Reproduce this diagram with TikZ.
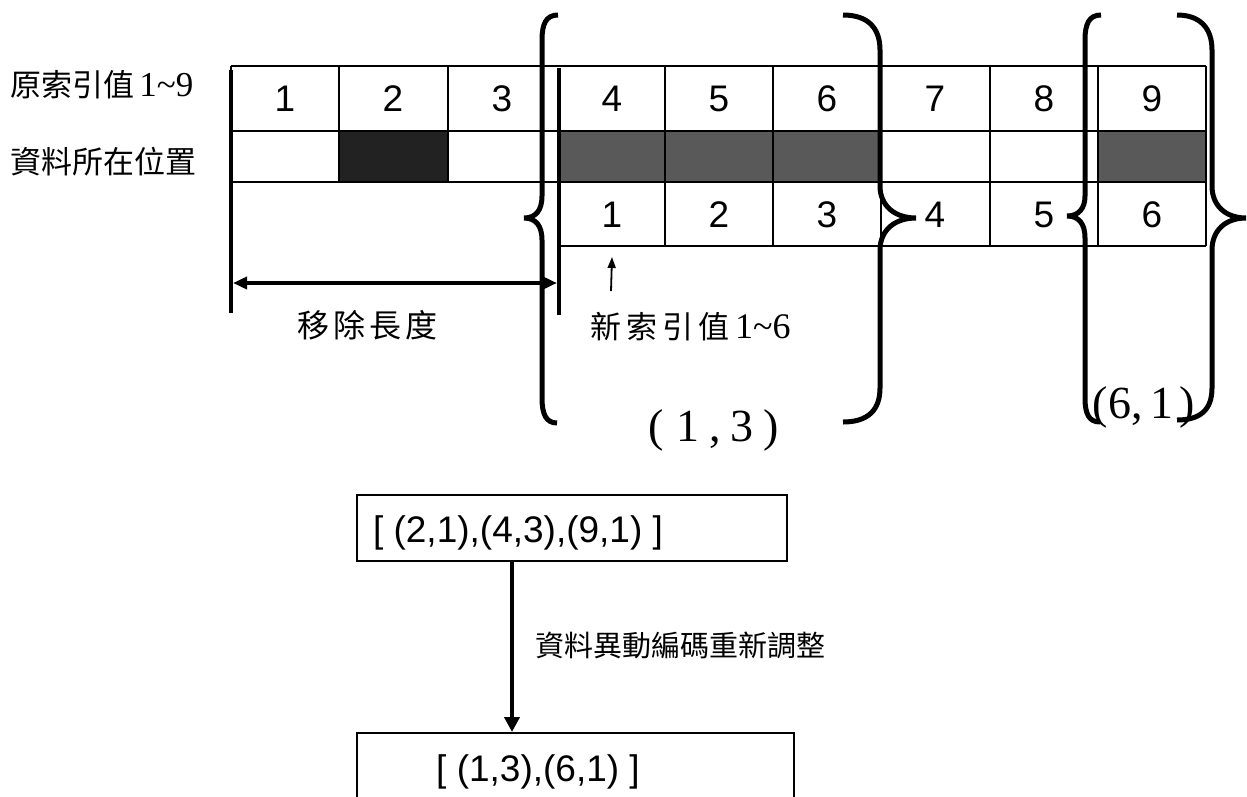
\documentclass[tikz,border=0pt]{standalone}
\usepackage{fontspec}
\setmainfont{Liberation Serif}
\newfontfamily\arialf{Liberation Sans}
\newfontfamily\cjkf{Noto Sans CJK TC}
\usetikzlibrary{arrows.meta}
\definecolor{darkcell}{HTML}{222222}
\definecolor{graycell}{HTML}{595959}
\tikzset{
  gridline/.style={line width=2pt},
  thickbar/.style={line width=4.5pt},
  bracepath/.style={line width=5pt},
  num/.style={font=\arialf\fontsize{37}{42}\selectfont, inner sep=0pt},
  lbl/.style={font=\cjkf\fontsize{31}{36}\selectfont, inner sep=0pt, anchor=west},
  tuple/.style={font=\fontsize{46}{52}\selectfont, inner sep=0pt},
  boxnode/.style={draw, line width=2pt, inner sep=0pt},
  boxtext/.style={font=\arialf\fontsize{37}{42}\selectfont, inner sep=0pt}
}
\begin{document}
\begin{tikzpicture}[x=1pt,y=-1pt]
\useasboundingbox (0,0) rectangle (1247,796);
\clip (0,0) rectangle (1247,796);
\fill[white] (0,0) rectangle (1247,796);

% row labels
\node[lbl] (lab1) at (10,85) {原索引值\,{\fontspec{Liberation Serif}\fontsize{35}{40}\selectfont 1\textasciitilde 9}};
\node[lbl] (lab2) at (10,162) {資料所在位置};

% cell fills
\fill[darkcell] (339,131) rectangle (448,182);
\fill[graycell] (559,131) rectangle (881,182);
\fill[graycell] (1098,131) rectangle (1206,182);

% grid
\draw[gridline] (231,66) -- (1206,66);
\draw[gridline] (231,131) -- (1206,131);
\draw[gridline] (231,182) -- (1206,182);
\draw[gridline] (559,246) -- (1206,246);
\draw[gridline] (231,66) -- (231,182);
\draw[gridline] (339,66) -- (339,182);
\draw[gridline] (448,66) -- (448,182);
\foreach \x in {665,773,881,990,1098,1206} {
  \draw[gridline] (\x,66) -- (\x,246);
}

% numbers row 1
\foreach \i/\x in {1/285,2/393,3/502,4/612,5/719,6/827,7/935,8/1044,9/1152} {
  \node[num] (n\i) at (\x,99) {\i};
}
% numbers row 3
\foreach \i/\x in {1/612,2/719,3/827,4/935,5/1044,6/1152} {
  \node[num] (m\i) at (\x,215) {\i};
}

% thick bars
\draw[thickbar] (231,70) -- (231,313);
\draw[thickbar] (559,68) -- (559,315);

% removed length arrow
\coordinate (rl) at (233,283);
\coordinate (rr) at (557,283);
\draw[line width=4pt, {Triangle[length=14pt,width=12pt]}-{Triangle[length=14pt,width=12pt]}] (rl) -- (rr);
\node[font=\cjkf\fontsize{32}{36}\selectfont, inner sep=0pt] (rmlab) at (367,325) {移\hspace{4pt}除\hspace{4pt}長\hspace{4pt}度};

% new index arrow
\coordinate (na) at (611,291);
\draw[line width=1.8pt, -{Triangle[length=11pt,width=8pt]}] (na) -- (m1.south |- 0,257);
\node[font=\cjkf\fontsize{31}{36}\selectfont, inner sep=0pt, anchor=west] (nilab) at (590,327) {新\hspace{5pt}索\hspace{5pt}引\hspace{5pt}值\hspace{6pt}{\fontspec{Liberation Serif}\fontsize{36}{40}\selectfont 1\textasciitilde 6}};

% tuples
\node[tuple] (t13) at (714,430) {(\hspace{12pt}1\hspace{10pt},\hspace{10pt}3\hspace{10pt})};
\node[tuple] (t61) at (1144,407) {(6,\hspace{8pt}1\hspace{6pt})};

% braces
\draw[bracepath] (558,15) .. controls (546,15) and (542,24) .. (542,40) -- (542,196)
  .. controls (542,210) and (536,218) .. (524,218)
  .. controls (536,218) and (542,226) .. (542,240) -- (542,398)
  .. controls (542,414) and (546,423) .. (557,423);
\draw[bracepath] (843,15) .. controls (868,15) and (880,28) .. (880,50) -- (880,186)
  .. controls (880,206) and (895,218) .. (916,218)
  .. controls (895,218) and (880,230) .. (880,250) -- (880,388)
  .. controls (880,410) and (868,422) .. (843,422);
\draw[bracepath] (1101,15) .. controls (1089,15) and (1085,24) .. (1085,40) -- (1085,196)
  .. controls (1085,208) and (1079,216) .. (1067,216)
  .. controls (1079,216) and (1085,224) .. (1085,238) -- (1085,398)
  .. controls (1085,414) and (1089,422) .. (1100,422);
\draw[bracepath] (1177,15) .. controls (1200,15) and (1212,28) .. (1212,50) -- (1212,186)
  .. controls (1212,206) and (1226,218) .. (1246,218)
  .. controls (1226,218) and (1212,230) .. (1212,250) -- (1212,388)
  .. controls (1212,410) and (1200,420) .. (1177,420);

% bottom boxes
\node[boxnode, minimum width=430pt, minimum height=66pt] (box1) at (572,528) {};
\node[boxtext] (bt1) at (518,533) {[ (2,1),(4,3),(9,1) ]};
\node[boxnode, minimum width=437pt, minimum height=80pt] (box2) at (575.5,773) {};
\node[boxtext] (bt2) at (538,772) {[ (1,3),(6,1) ]};
\coordinate (ax) at (512,0);
\draw[line width=4pt, -{Triangle[length=15pt,width=15pt]}] (box1.south -| ax) -- (box2.north -| ax);
\node[font=\cjkf\fontsize{29}{32}\selectfont, inner sep=0pt, anchor=west] (chg) at (535,645) {資料異動編碼重新調整};
\end{tikzpicture}
\end{document}
